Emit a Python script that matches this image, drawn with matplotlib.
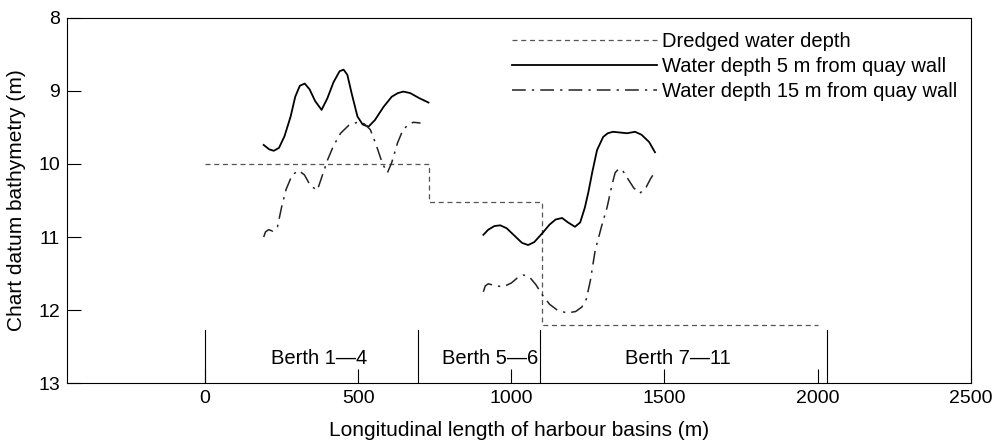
import matplotlib.pyplot as plt

# dredged water depth (step profile)
dredged_x = [0, 733, 733, 1100, 1100, 2000]
dredged_y = [10.0, 10.0, 10.52, 10.52, 12.2, 12.2]

# water depth 5 m from quay wall (two surveyed stretches)
near_x1 = [192, 210, 225, 242, 260, 280, 295, 310, 326, 342, 360, 381, 400, 420, 440, 453,
           465, 480, 498, 515, 534, 555, 583, 610, 630, 648, 670, 700, 730]
near_y1 = [9.74, 9.80, 9.82, 9.78, 9.62, 9.35, 9.08, 8.93, 8.90, 8.98, 9.14, 9.26, 9.10, 8.88, 8.73, 8.71,
           8.78, 9.05, 9.35, 9.46, 9.49, 9.40, 9.22, 9.08, 9.03, 9.01, 9.03, 9.10, 9.16]
near_x2 = [909, 925, 945, 964, 985, 1010, 1035, 1055, 1075, 1101, 1125, 1145, 1166, 1185, 1208,
           1225, 1240, 1251, 1265, 1280, 1300, 1315, 1332, 1355, 1378, 1404, 1425, 1450, 1469]
near_y2 = [10.97, 10.90, 10.85, 10.84, 10.88, 10.98, 11.08, 11.11, 11.07, 10.95, 10.83, 10.76, 10.74, 10.80, 10.86,
           10.80, 10.60, 10.40, 10.10, 9.81, 9.63, 9.58, 9.56, 9.57, 9.58, 9.56, 9.60, 9.70, 9.84]

# water depth 15 m from quay wall
far_x1 = [192, 198, 208, 222, 237, 250, 265, 285, 306, 325, 345, 367, 380, 400, 420, 443,
          470, 498, 520, 540, 560, 580, 596, 610, 629, 645, 661, 680, 704]
far_y1 = [11.0, 10.93, 10.90, 10.92, 10.86, 10.60, 10.35, 10.15, 10.09, 10.15, 10.30, 10.36, 10.20, 9.95, 9.75, 9.58,
          9.47, 9.43, 9.45, 9.53, 9.75, 10.00, 10.12, 9.98, 9.71, 9.55, 9.47, 9.43, 9.44]
far_x2 = [909, 915, 925, 950, 974, 1000, 1020, 1040, 1060, 1080, 1101, 1125, 1150, 1182, 1210, 1230,
          1245, 1258, 1274, 1295, 1313, 1328, 1339, 1350, 1362, 1380, 1400, 1420, 1440, 1455, 1469]
far_y2 = [11.75, 11.67, 11.64, 11.67, 11.68, 11.63, 11.56, 11.52, 11.55, 11.65, 11.79, 11.92, 12.00, 12.04, 12.02, 11.96,
          11.85, 11.60, 11.18, 10.85, 10.59, 10.30, 10.12, 10.07, 10.08, 10.20, 10.33, 10.40, 10.32, 10.20, 10.11]

# berths
berth_edges = [0, 697, 1095, 2030]
berth_names = ['Berth 1\u20144', 'Berth 5\u20146', 'Berth 7\u201411']
berth_label_x = [372, 932, 1545]

plt.rcParams['font.family'] = ['Liberation Sans', 'DejaVu Sans']

fig = plt.figure(figsize=(10.04, 4.45), dpi=100)
ax = fig.add_axes([0.0667, 0.139, 0.9003, 0.821])

ax.plot(dredged_x, dredged_y, color='#555555', lw=0.9, dashes=(4, 3),
        label='Dredged water depth')
ax.plot(near_x1, near_y1, color='black', lw=1.3,
        label='Water depth 5 m from quay wall')
ax.plot(near_x2, near_y2, color='black', lw=1.3)
ax.plot(far_x1, far_y1, color='#222222', lw=1.1, dashes=(9, 4, 1.5, 4),
        label='Water depth 15 m from quay wall')
ax.plot(far_x2, far_y2, color='#222222', lw=1.1, dashes=(9, 4, 1.5, 4))

for bx in berth_edges:
    ax.plot([bx, bx], [13, 12.27], color='black', lw=0.8)
for name, lx in zip(berth_names, berth_label_x):
    ax.text(lx, 12.66, name, ha='center', va='center', fontsize=14.5)

ax.set_xlim(-450, 2500)
ax.set_ylim(13, 8)
ax.set_xticks([0, 500, 1000, 1500, 2000, 2500])
ax.set_yticks([8, 9, 10, 11, 12, 13])
ax.tick_params(direction='in', length=10, width=0.8, labelsize=14, pad=5)
ax.set_xlabel('Longitudinal length of harbour basins (m)', fontsize=15, labelpad=10)
ax.set_ylabel('Chart datum bathymetry (m)', fontsize=15, labelpad=9)

ax.legend(loc='upper right', bbox_to_anchor=(1.0, 1.0), frameon=False,
          fontsize=14.5, handlelength=7.2, handletextpad=0.2,
          labelspacing=0.3, borderaxespad=0.3)

fig.savefig('out.png', dpi=100)
